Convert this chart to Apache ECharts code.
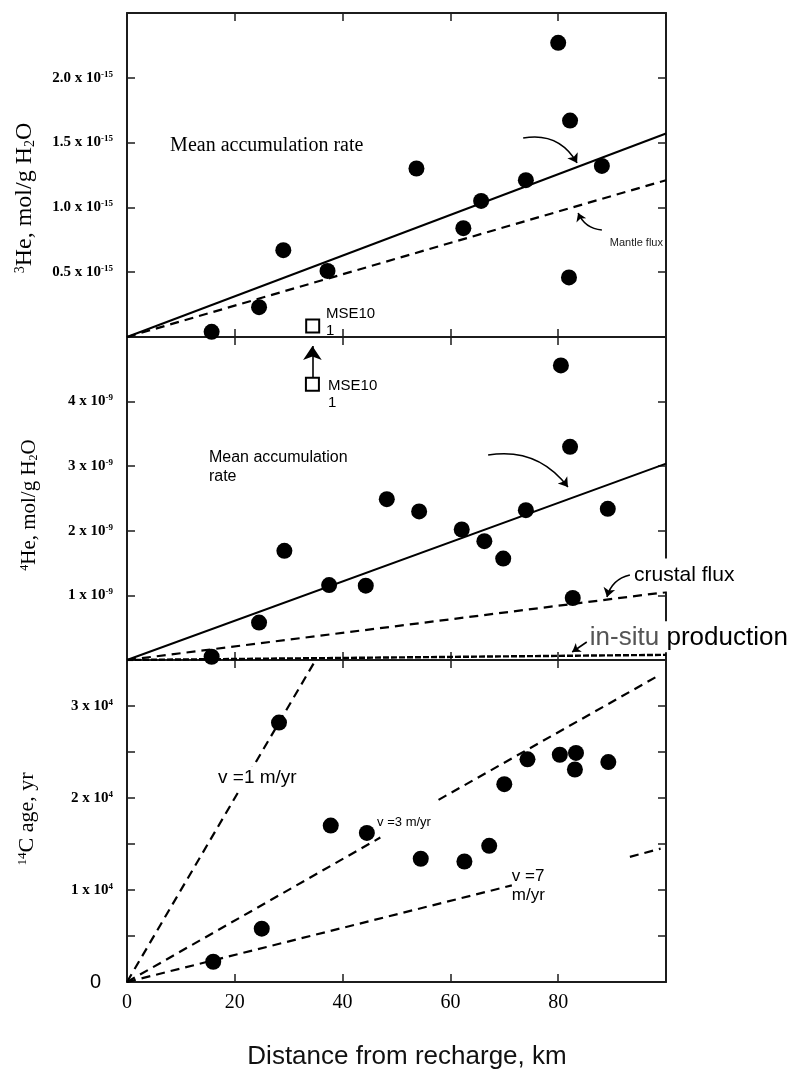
<!DOCTYPE html>
<html><head><meta charset="utf-8">
<script src="https://cdn.jsdelivr.net/npm/echarts@6/dist/echarts.min.js"></script>
<style>html,body{margin:0;padding:0;background:#fff}#c{width:793px;height:1070px}</style>
</head><body><div id="c"></div>
<script>
// ---------- shared x axis ----------
const xTickValues = [0, 20, 40, 60, 80];
const xTickLabels = ['0', '20', '40', '60', '80'];

// ---------- panel 1 : 3He (x 1e-15 mol/g H2O) ----------
const he3Dist = [15.7, 24.5, 29.0, 37.2, 53.7, 62.4, 65.7, 74.0, 80.0, 82.2, 82.0, 88.1];
const he3Val  = [0.04, 0.23, 0.67, 0.51, 1.30, 0.84, 1.05, 1.21, 2.27, 1.67, 0.46, 1.32];
const he3MseDist = [34.45];
const he3MseVal  = [0.085];
const he3MeanRate    = [[0, 0], [100, 1.57]];
const he3MantleFlux  = [[0, 0], [100, 1.21]];
const he3TickValues = [0.5, 1.0, 1.5, 2.0];
const he3TickLabels = ['0.5', '1.0', '1.5', '2.0'];
const he3Exponent = '-15';

// ---------- panel 2 : 4He (x 1e-9 mol/g H2O) ----------
const he4Dist = [15.7, 24.5, 29.2, 37.5, 44.3, 48.2, 54.2, 62.1, 66.3, 69.8, 74.0, 80.5, 82.2, 89.2, 82.7];
const he4Val  = [0.05, 0.58, 1.69, 1.16, 1.15, 2.49, 2.30, 2.02, 1.84, 1.57, 2.32, 4.56, 3.30, 2.34, 0.96];
const he4MseDist = [34.4];
const he4MseVal  = [4.27];
const he4MeanRate    = [[0, 0], [100, 3.04]];
const he4CrustalFlux = [[0, 0], [100, 1.05]];
const he4InSitu      = [[0, 0], [100, 0.08]];
const he4TickValues = [1, 2, 3, 4];
const he4TickLabels = ['1', '2', '3', '4'];
const he4Exponent = '-9';

// ---------- panel 3 : 14C age (x 1e4 yr) ----------
const c14Dist = [16.0, 25.0, 28.2, 37.8, 44.5, 54.5, 62.6, 67.2, 70.0, 74.3, 80.3, 83.3, 83.1, 89.3];
const c14Age  = [0.22, 0.58, 2.82, 1.70, 1.62, 1.34, 1.31, 1.48, 2.15, 2.42, 2.47, 2.49, 2.31, 2.39];
const v1Segments = [[[0, 0], [35, 3.5]]];
const v3Segments = [[[0, 0], [47, 1.57]], [[57.8, 1.98], [98.9, 3.34]]];
const v7Segments = [[[0, 0], [71.4, 1.05]], [[93.3, 1.36], [99, 1.45]]];
const c14TickValues = [0, 1, 2, 3];
const c14TickLabels = ['0', '1', '2', '3'];
const c14Exponent = '4';

// ---------- annotations (data coordinates of panel) ----------
const textNotes = [
  {panel: 0, at: [8.0, 1.474], text: 'Mean accumulation rate', style: 'serif20'},
  {panel: 0, at: [89.2, 0.725], text: 'Mantle flux', style: 'small', bg: [5, 2, 5, 2]},
  {panel: 0, at: [36.9, 0.112], text: 'MSE10\n1', style: 'mse'},
  {panel: 1, at: [37.3, 4.118], text: 'MSE10\n1', style: 'mse'},
  {panel: 1, at: [15.2, 2.99], text: 'Mean accumulation\nrate', style: 'sans16'},
  {panel: 1, at: [93.7, 1.316], text: 'crustal flux', style: 'sans21', bg: [5, 2, 4, 2]},
  {panel: 1, at: [85.5, 0.36], text: '{g|in-situ} production', style: 'sans26', bg: [3, 2, 0, 2]},
  {panel: 2, at: [16.7, 2.217], text: 'v =1 m/yr', style: 'sans19', bg: [0, 1, 0, 1]},
  {panel: 2, at: [46.4, 1.739], text: 'v =3 m/yr', style: 'sans13'},
  {panel: 2, at: [71.4, 1.043], text: 'v =7\nm/yr', style: 'sans17'}
];
const arrowNotes = [
  {panel: 0, from: [73.5, 1.535], to: [83.5, 1.343], curve: 0.35, head: 9},
  {panel: 0, from: [88.1, 0.826], to: [83.7, 0.957], curve: 0.3, head: 8},
  {panel: 1, from: [34.4, 4.37], to: [34.4, 4.86], curve: 0, head: 14},
  {panel: 1, from: [67.0, 3.173], to: [81.8, 2.678], curve: 0.3, head: 9},
  {panel: 1, from: [93.3, 1.316], to: [89.05, 0.975], curve: -0.3, head: 9},
  {panel: 1, from: [85.3, 0.279], to: [82.6, 0.124], curve: 0, head: 8}
];

// ---------- styles ----------
const SERIF = '"Liberation Serif","Times New Roman",serif';
const SANS = '"Liberation Sans",Arial,sans-serif';
const FRAME = '#1c1c1c';
const INK = '#000';

const noteStyles = {
  serif20: {fontFamily: SERIF, fontSize: 20, lineHeight: 22},
  small:   {fontFamily: SANS, fontSize: 11, lineHeight: 13, color: '#222'},
  mse:     {fontFamily: SANS, fontSize: 15, lineHeight: 17},
  sans16:  {fontFamily: SANS, fontSize: 16, lineHeight: 19},
  sans21:  {fontFamily: SANS, fontSize: 21, lineHeight: 24},
  sans26:  {fontFamily: SANS, fontSize: 26, lineHeight: 28},
  sans19:  {fontFamily: SANS, fontSize: 19, lineHeight: 22},
  sans13:  {fontFamily: SANS, fontSize: 13, lineHeight: 15},
  sans17:  {fontFamily: SANS, fontSize: 17, lineHeight: 19}
};

const grids = [
  {left: 127, top: 13, width: 539, height: 324},
  {left: 127, top: 337, width: 539, height: 323},
  {left: 127, top: 660, width: 539, height: 322}
];

const tickBase = {show: true, inside: true, length: 8, lineStyle: {color: FRAME, width: 1.5}};
const lineBase = {show: true, onZero: false, lineStyle: {color: FRAME, width: 2}};

function xAxesFor(gi, labelled) {
  const base = {type: 'value', gridIndex: gi, min: 0, max: 100, interval: 20,
    axisLine: lineBase, axisTick: tickBase, splitLine: {show: false}};
  const bottomLabel = labelled ? {
    show: true, margin: 11, color: INK, fontFamily: SERIF, fontSize: 20,
    formatter: v => { const i = xTickValues.indexOf(v); return i < 0 ? '' : xTickLabels[i]; }
  } : {show: false};
  return [
    Object.assign({}, base, {position: 'bottom', axisLabel: bottomLabel}),
    Object.assign({}, base, {position: 'top', axisLabel: {show: false}})
  ];
}

function expFormatter(values, labels, exp) {
  return v => {
    const i = values.findIndex(t => Math.abs(t - v) < 1e-6);
    if (i < 0) return '';
    if (labels[i] === '0') return '{z|0}';
    return '{b|' + labels[i] + ' x 10}{s|' + exp + '}';
  };
}
const yRich = {
  b: {fontFamily: SERIF, fontWeight: 'bold', fontSize: 15, color: INK, lineHeight: 16},
  s: {fontFamily: SERIF, fontWeight: 'bold', fontSize: 9, color: INK, verticalAlign: 'top', lineHeight: 10},
  z: {fontFamily: SANS, fontSize: 20, color: INK, padding: [0, 12, 0, 0]}
};

function yAxesFor(gi, max, interval, values, labels, exp) {
  const base = {type: 'value', gridIndex: gi, min: 0, max: max, interval: interval,
    axisLine: lineBase, axisTick: tickBase, splitLine: {show: false}};
  return [
    Object.assign({}, base, {position: 'left', axisLabel: {show: true, margin: 14,
      formatter: expFormatter(values, labels, exp), rich: yRich}}),
    Object.assign({}, base, {position: 'right', axisLabel: {show: false}})
  ];
}

const zip = (xs, ys) => xs.map((x, i) => [x, ys[i]]);

function dots(gi, xs, ys) {
  return {type: 'scatter', xAxisIndex: 2 * gi, yAxisIndex: 2 * gi, data: zip(xs, ys),
    symbol: 'circle', symbolSize: 16, itemStyle: {color: '#000', opacity: 1}, z: 6, silent: true};
}
function squares(gi, xs, ys) {
  return {type: 'scatter', xAxisIndex: 2 * gi, yAxisIndex: 2 * gi, data: zip(xs, ys),
    symbol: 'rect', symbolSize: 13, itemStyle: {color: '#fff', borderColor: '#000', borderWidth: 2, opacity: 1}, z: 6, silent: true};
}
function line(gi, pts, type, width) {
  return {type: 'line', xAxisIndex: 2 * gi, yAxisIndex: 2 * gi, data: pts, showSymbol: false, symbol: 'none',
    lineStyle: {color: '#000', width: width || 2, type: type || 'solid', opacity: 1}, z: 4, silent: true, animation: false};
}

const series = [];
// panel 1
series.push(line(0, he3MeanRate, 'solid', 2));
series.push(line(0, he3MantleFlux, [9, 6], 2.2));
series.push(dots(0, he3Dist, he3Val));
series.push(squares(0, he3MseDist, he3MseVal));
// panel 2
series.push(line(1, he4MeanRate, 'solid', 2));
series.push(line(1, he4CrustalFlux, [9, 6], 2.2));
series.push(line(1, he4InSitu, [6, 2], 2.4));
series.push(dots(1, he4Dist, he4Val));
series.push(squares(1, he4MseDist, he4MseVal));
// panel 3
[v1Segments, v3Segments, v7Segments].forEach(segs => segs.forEach(s => series.push(line(2, s, [9, 6], 2.2))));
series.push(dots(2, c14Dist, c14Age));

// arrows
arrowNotes.forEach(a => {
  series.push({type: 'lines', coordinateSystem: 'cartesian2d', xAxisIndex: 2 * a.panel, yAxisIndex: 2 * a.panel,
    symbol: ['none', 'arrow'], symbolSize: a.head, silent: true, z: 7, animation: false,
    itemStyle: {color: '#000', opacity: 1},
    lineStyle: {color: '#000', width: 1.6, curveness: a.curve, opacity: 1},
    data: [{coords: [a.from, a.to]}]});
});

// text notes
textNotes.forEach(n => {
  const st = noteStyles[n.style];
  const lbl = Object.assign({show: true, position: 'right', distance: 0, color: INK, opacity: 1,
    formatter: n.text, rich: {g: Object.assign({}, st, {color: '#555'})}}, st);
  if (n.bg) { lbl.backgroundColor = '#fff'; lbl.padding = n.bg; }
  series.push({type: 'scatter', xAxisIndex: 2 * n.panel, yAxisIndex: 2 * n.panel, symbolSize: 0,
    itemStyle: {opacity: 1}, silent: true, z: 8, clip: false, data: [{value: n.at}], label: lbl});
});

const option = {
  backgroundColor: '#fff',
  animation: false,
  grid: grids,
  xAxis: [].concat(xAxesFor(0, false), xAxesFor(1, false), xAxesFor(2, true)),
  yAxis: [].concat(
    yAxesFor(0, 2.5, 0.5, he3TickValues, he3TickLabels, he3Exponent),
    yAxesFor(1, 5, 1, he4TickValues, he4TickLabels, he4Exponent),
    yAxesFor(2, 3.5, 0.5, c14TickValues, c14TickLabels, c14Exponent)),
  series: series,
  graphic: [
    {type: 'text', x: 25, y: 198, rotation: Math.PI / 2, style: {
      text: '{p|3}He, mol/g H{q|2}O', fontFamily: SERIF, fontSize: 24, fill: INK, align: 'center', verticalAlign: 'middle',
      rich: {p: {fontFamily: SERIF, fontSize: 14, verticalAlign: 'top'}, q: {fontFamily: SERIF, fontSize: 14, verticalAlign: 'bottom'}}}},
    {type: 'text', x: 29, y: 505, rotation: Math.PI / 2, style: {
      text: '{p|4}He, mol/g H{q|2}O', fontFamily: SERIF, fontSize: 21, fill: INK, align: 'center', verticalAlign: 'middle',
      rich: {p: {fontFamily: SERIF, fontSize: 12, verticalAlign: 'top'}, q: {fontFamily: SERIF, fontSize: 12, verticalAlign: 'bottom'}}}},
    {type: 'text', x: 27, y: 819, rotation: Math.PI / 2, style: {
      text: '{p|14}C age, yr', fontFamily: SERIF, fontSize: 22, fill: INK, align: 'center', verticalAlign: 'middle',
      rich: {p: {fontFamily: SERIF, fontSize: 13, verticalAlign: 'top'}}}},
    {type: 'text', x: 407, y: 1057, style: {
      text: 'Distance from recharge, km', fontFamily: SANS, fontSize: 26, fill: '#111', align: 'center', verticalAlign: 'middle'}}
  ]
};

const chart = echarts.init(document.getElementById('c'), null, {renderer: 'canvas'});
chart.setOption(option);
</script>
</body></html>
